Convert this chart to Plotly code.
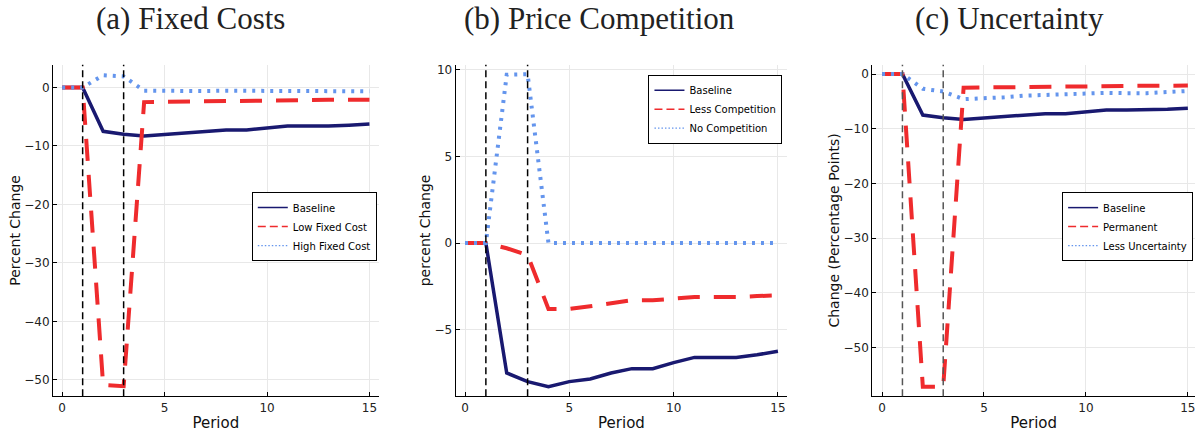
import plotly.graph_objects as go

W, H = 1196, 433

periods = list(range(16))

# Panel (a) Fixed Costs
baseline = [0, 0, -7.5, -8.0, -8.3, -8.0, -7.85, -7.5, -7.25, -7.25, -6.9, -6.6, -6.6, -6.6, -6.45, -6.25]
low_fixed_cost = [0, 0, -50.9, -51.1, -2.5, -2.45, -2.35, -2.25, -2.2, -2.2, -2.15, -2.1, -2.1, -2.1, -2.1, -2.1]
high_fixed_cost = [0, 0, 2.1, 1.9, -0.55, -0.6, -0.6, -0.6, -0.55, -0.55, -0.6, -0.65, -0.65, -0.65, -0.65, -0.65]

# Panel (b) Price Competition
less_competition = [0, 0, -0.3, -0.7, -3.8, -3.8, -3.65, -3.45, -3.3, -3.3, -3.2, -3.12, -3.12, -3.12, -3.06, -3.02]
no_competition = [0, 0, 9.72, 9.75, 0, 0, 0, 0, 0, 0, 0, 0, 0, 0, 0, 0]

# Panel (c) Uncertainty
permanent = [0, 0, -57.2, -57.2, -2.5, -2.45, -2.35, -2.3, -2.25, -2.25, -2.2, -2.15, -2.15, -2.15, -2.15, -2.1]
less_uncertainty = [0, 0, -2.7, -3.2, -4.6, -4.5, -4.25, -3.95, -3.8, -3.8, -3.6, -3.45, -3.5, -3.5, -3.3, -3.1]

shock_periods = [1, 3]

titles = ["(a) Fixed Costs", "(b) Price Competition", "(c) Uncertainty"]
ylabels = ["Percent Change", "percent Change", "Change (Percentage Points)"]
xticks = [0, 5, 10, 15]

NAVY = "#191970"
RED = "#ef2b2d"
BLUE = "#6495ed"

panels = [
    dict(series=[("Baseline", baseline), ("Low Fixed Cost", low_fixed_cost), ("High Fixed Cost", high_fixed_cost)],
         yrange=[-52.8, 3.9], ytick=[0, -10, -20, -30, -40, -50], xdom=(53, 379), xr=[-0.45, 15.45],
         legpos=(252, 191), vcol="#000000", title_cx=191),
    dict(series=[("Baseline", baseline), ("Less Competition", less_competition), ("No Competition", no_competition)],
         yrange=[-8.84, 10.3], ytick=[10, 5, 0, -5], xdom=(456, 788), xr=[-0.45, 15.45],
         legpos=(649, 73), vcol="#000000", title_cx=600),
    dict(series=[("Baseline", baseline), ("Permanent", permanent), ("Less Uncertainty", less_uncertainty)],
         yrange=[-58.9, 1.7], ytick=[0, -10, -20, -30, -40, -50], xdom=(873, 1196), xr=[-0.48, 15.35],
         legpos=(1063, 191), vcol="#555555", title_cx=1010),
]

styles = [
    dict(color=NAVY, width=3.5, dash="solid"),
    dict(color=RED, width=4, dash="22px,14px"),
    dict(color=BLUE, width=4, dash="3px,6px"),
]
legend_styles = [
    dict(color=NAVY, width=1.5, dash="solid"),
    dict(color=RED, width=1.5, dash="8px,4px"),
    dict(color=BLUE, width=1.2, dash="1.5px,2px"),
]

fig = go.Figure()
TOP, BOT = 63, 396
shapes = []
annotations = []
layout = {}
for i, p in enumerate(panels):
    k = "" if i == 0 else str(i + 1)
    legname = "legend" if i == 0 else f"legend{i+1}"
    for (name, vals), st in zip(p["series"], styles):
        fig.add_trace(go.Scatter(
            x=periods, y=vals, mode="lines", name=name,
            line=dict(color=st["color"], width=st["width"], dash=st["dash"]),
            xaxis="x" + k, yaxis="y" + k, showlegend=False,
        ))
    # legend entries (thin line samples, as in the original)
    for (name, vals), st in zip(p["series"], legend_styles):
        fig.add_trace(go.Scatter(
            x=[None], y=[None], mode="lines", name=name,
            line=dict(color=st["color"], width=st["width"], dash=st["dash"]),
            xaxis="x" + k, yaxis="y" + k, legend=legname, showlegend=True, hoverinfo="skip",
        ))
    axfont = dict(family="DejaVu Sans", size=12, color="#222222")
    layout["xaxis" + k] = dict(
        domain=[p["xdom"][0] / W, p["xdom"][1] / W], range=p["xr"], anchor="y" + k,
        tickvals=xticks, ticks="inside", ticklen=4, tickcolor="#000000",
        showline=True, linecolor="#000000", linewidth=1, mirror=False,
        showgrid=True, gridcolor="#e8e8e8", gridwidth=1, zeroline=False,
        ticklabeloverflow="allow",
        tickfont=axfont, title=dict(text="Period", font=dict(family="DejaVu Sans", size=15, color="#111111"), standoff=3),
    )
    layout["yaxis" + k] = dict(
        domain=[1 - BOT / H, 1 - TOP / H], range=p["yrange"], anchor="x" + k,
        tickvals=p["ytick"], ticks="inside", ticklen=4, tickcolor="#000000",
        showline=True, linecolor="#000000", linewidth=1, mirror=False,
        showgrid=True, gridcolor="#e8e8e8", gridwidth=1, zeroline=False,
        tickfont=axfont, title=dict(text=ylabels[i], font=dict(family="DejaVu Sans", size=14, color="#111111"), standoff=0),
    )
    layout[legname] = dict(
        x=p["legpos"][0] / W, y=1 - p["legpos"][1] / H, xanchor="left", yanchor="top",
        xref="paper", yref="paper",
        bgcolor="#ffffff", bordercolor="#000000", borderwidth=1,
        font=dict(family="DejaVu Sans", size=10, color="#000000"),
        itemwidth=30, tracegroupgap=0,
    )
    for sx in shock_periods:
        shapes.append(dict(type="line", xref="x" + k, yref="y" + k + " domain", x0=sx, x1=sx, y0=0, y1=1,
                           line=dict(color=p["vcol"], width=1.5, dash="7px,4px"), layer="above"))
    annotations.append(dict(text=titles[i], xref="paper", yref="paper", x=p["title_cx"] / W, y=1 - 17 / H,
                            xanchor="center", yanchor="middle", showarrow=False,
                            font=dict(family="Liberation Serif", size=31, color="#222222")))

fig.update_layout(
    width=W, height=H, margin=dict(l=0, r=0, t=0, b=0),
    paper_bgcolor="#ffffff", plot_bgcolor="#ffffff",
    shapes=shapes, annotations=annotations, **layout,
)

fig.write_html("out.html")
